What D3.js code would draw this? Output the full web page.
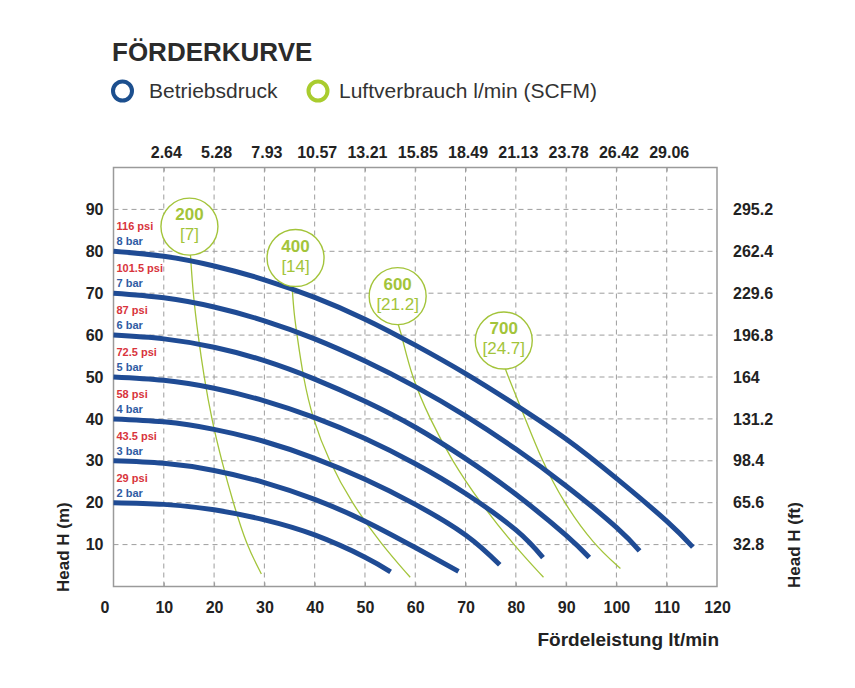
<!DOCTYPE html>
<html>
<head>
<meta charset="utf-8">
<script src="https://cdn.jsdelivr.net/npm/d3@7"></script>
<style>
  body { margin: 0; background: #fff; }
  svg { font-family: "Liberation Sans", Arial, sans-serif; }
</style>
</head>
<body>
<svg id="chart" width="855" height="688"></svg>
<script>
// flow in l/min, head in m
const flowTicks = [10, 20, 30, 40, 50, 60, 70, 80, 90, 100, 110];
const bottomTicks = [0, 10, 20, 30, 40, 50, 60, 70, 80, 90, 100, 110, 120];
const gallonLabels = ["2.64", "5.28", "7.93", "10.57", "13.21", "15.85", "18.49", "21.13", "23.78", "26.42", "29.06"];
const headTicks = [10, 20, 30, 40, 50, 60, 70, 80, 90];
const feetLabels = ["32.8", "65.6", "98.4", "131.2", "164", "196.8", "229.6", "262.4", "295.2"];

const barLabels = ["2 bar", "3 bar", "4 bar", "5 bar", "6 bar", "7 bar", "8 bar"];
const psiLabels = ["29 psi", "43.5 psi", "58 psi", "72.5 psi", "87 psi", "101.5 psi", "116 psi"];

const curve2 = [[0,20],[10,19.6],[20,18.3],[30,15.9],[40,12.3],[50,7.0],[55.1,3.5]];
const curve3 = [[0,30],[10,29.4],[20,27.7],[30,24.8],[40,20.8],[50,15.6],[60,9.3],[68.6,3.6]];
const curve4 = [[0,40],[10,39.3],[20,37.5],[30,34.6],[40,30.6],[50,25.6],[60,19.6],[70,12.3],[76.8,5.2]];
const curve5 = [[0,50],[10,49.2],[20,47.3],[30,44.3],[40,40.3],[50,35.3],[60,29.3],[70,22.2],[80,13.5],[85.4,6.9]];
const curve6 = [[0,60],[10,59.1],[20,57.1],[30,53.9],[40,49.5],[50,44.2],[60,38.0],[70,30.5],[80,22.0],[90,12.2],[94.6,6.9]];
const curve7 = [[0,70],[10,68.9],[20,66.7],[30,63.4],[40,59.1],[50,53.8],[60,47.7],[70,40.7],[80,32.8],[90,24.0],[100,14.1],[104.6,8.5]];
const curve8 = [[0,80],[10,78.8],[20,76.5],[30,73.2],[40,69.0],[50,63.8],[60,57.6],[70,50.8],[80,43.3],[90,35.2],[100,25.8],[110,15.6],[115.2,9.4]];

const airNames = ["200", "400", "600", "700"];
const airScfm = ["[7]", "[14]", "[21.2]", "[24.7]"];
const airBubbles = [[15.1,85.9],[36.2,78.4],[56.5,69.3],[77.6,58.7]];
const air200 = [[15.3,79.2],[15.8,70],[16.8,60],[18,50],[19.5,40],[21.5,30],[23.8,20],[26.4,10],[29.4,3]];
const air400 = [[35.5,71.7],[35.9,65],[36.5,60],[37.7,50],[39.6,40],[42.8,30],[47.3,20],[53.3,10],[59,2.2]];
const air600 = [[56.6,62.6],[57.3,60],[59.3,50],[62.9,40],[67.3,30],[72.9,20],[79.5,10],[85.5,2.2]];
const air700 = [[77.9,52],[78.5,50],[81.9,40],[85.2,30],[89.5,20],[95.5,10],[100.8,4.3]];

const pumpCurves = [curve2, curve3, curve4, curve5, curve6, curve7, curve8];
const airLines = [air200, air400, air600, air700];

const blue = "#1f4b94", green = "#a3c43a", red = "#d8343c", labelBlue = "#2f5ba3", ink = "#222";

const svg = d3.select("#chart");
const x = d3.scaleLinear().domain([0, 120]).range([113.5, 717]);
const y = d3.scaleLinear().domain([0, 100]).range([586.5, 167.5]);

// title + legend
svg.append("text").attr("x", 112).attr("y", 60.5)
    .attr("font-size", 26).attr("font-weight", "bold").attr("fill", "#2b2b2b")
    .text("FÖRDERKURVE");

const legend = [
    {cx: 122.5, color: "#1c4f8e", tx: 149, label: "Betriebsdruck"},
    {cx: 318, color: "#a9cc2e", tx: 339, label: "Luftverbrauch l/min (SCFM)"}
];
legend.forEach(d => {
    svg.append("circle").attr("cx", d.cx).attr("cy", 91).attr("r", 9.5)
        .attr("fill", "none").attr("stroke", d.color).attr("stroke-width", 4);
    svg.append("text").attr("x", d.tx).attr("y", 97.5)
        .attr("font-size", 21).attr("fill", "#333").text(d.label);
});

// grid
const grid = svg.append("g").attr("stroke", "#9d9d9d").attr("stroke-width", 1).attr("stroke-dasharray", "5,4");
grid.selectAll(".vg").data(flowTicks).enter().append("line")
    .attr("x1", d => x(d)).attr("x2", d => x(d))
    .attr("y1", y(100)).attr("y2", y(0));
grid.selectAll(".hg").data(headTicks).enter().append("line")
    .attr("x1", x(0)).attr("x2", x(120))
    .attr("y1", d => y(d)).attr("y2", d => y(d));

svg.append("rect")
    .attr("x", x(0)).attr("y", y(100))
    .attr("width", x(120) - x(0)).attr("height", y(0) - y(100))
    .attr("fill", "none").attr("stroke", "#9a9a9a").attr("stroke-width", 1.5);

// axes
function styleAxis(g) {
    g.select(".domain").remove();
    g.selectAll(".tick line").attr("stroke", "#9a9a9a");
    g.selectAll(".tick text").attr("font-size", 16).attr("font-weight", "bold").attr("fill", ink);
}

const bottomAxis = svg.append("g").attr("transform", `translate(0,${y(0)})`)
    .call(d3.axisBottom(x).tickValues(bottomTicks).tickSizeInner(-4).tickSizeOuter(0).tickPadding(15))
    .call(styleAxis);
bottomAxis.selectAll(".tick").filter(d => d === 0).select("text").attr("dx", -9);
bottomAxis.selectAll(".tick").filter(d => d === 0 || d === 120).select("line").remove();

svg.append("g").attr("transform", `translate(0,${y(100)})`)
    .call(d3.axisTop(x).tickValues(flowTicks).tickFormat((d, i) => gallonLabels[i])
        .tickSizeInner(-4).tickSizeOuter(0).tickPadding(10))
    .call(styleAxis)
    .selectAll(".tick text").attr("dx", 2);

svg.append("g").attr("transform", `translate(${x(0)},0)`)
    .call(d3.axisLeft(y).tickValues(headTicks).tickSize(0).tickPadding(10))
    .call(styleAxis);

svg.append("g").attr("transform", `translate(${x(120)},0)`)
    .call(d3.axisRight(y).tickValues(headTicks).tickFormat((d, i) => feetLabels[i])
        .tickSize(0).tickPadding(16))
    .call(styleAxis);

svg.append("text").attr("x", 719).attr("y", 646).attr("text-anchor", "end")
    .attr("font-size", 19).attr("font-weight", "bold").attr("fill", ink)
    .text("Fördeleistung lt/min");
svg.append("text").attr("transform", "translate(69,592) rotate(-90)")
    .attr("font-size", 17).attr("font-weight", "bold").attr("fill", ink)
    .text("Head H (m)");
svg.append("text").attr("transform", "translate(800,588) rotate(-90)")
    .attr("font-size", 17).attr("font-weight", "bold").attr("fill", ink)
    .text("Head H (ft)");

// air consumption lines
const airLine = d3.line().x(d => x(d[0])).y(d => y(d[1])).curve(d3.curveBasis);
svg.append("g").selectAll("path").data(airLines).enter().append("path")
    .attr("d", airLine).attr("fill", "none").attr("stroke", green).attr("stroke-width", 1.3);

// pump curves
const pumpLine = d3.line().x(d => x(d[0])).y(d => y(d[1])).curve(d3.curveNatural);
svg.append("g").selectAll("path").data(pumpCurves).enter().append("path")
    .attr("d", pumpLine).attr("fill", "none").attr("stroke", blue).attr("stroke-width", 5);

// bubbles
const bubbles = svg.append("g").selectAll("g").data(airBubbles).enter().append("g")
    .attr("transform", d => `translate(${x(d[0])},${y(d[1])})`);
bubbles.append("circle").attr("r", 28.5).attr("fill", "#fff").attr("stroke", green).attr("stroke-width", 1.4);
bubbles.append("text").attr("y", -6.5).attr("text-anchor", "middle")
    .attr("font-size", 17).attr("font-weight", "bold").attr("fill", green)
    .text((d, i) => airNames[i]);
bubbles.append("text").attr("y", 13.5).attr("text-anchor", "middle")
    .attr("font-size", 17).attr("fill", green)
    .text((d, i) => airScfm[i]);

// pressure labels
const labels = svg.append("g").attr("font-size", 11).attr("font-weight", "bold");
pumpCurves.forEach((c, i) => {
    labels.append("text").attr("x", x(0) + 3).attr("y", y(c[0][1]) - 21)
        .attr("fill", red).text(psiLabels[i]);
    labels.append("text").attr("x", x(0) + 3).attr("y", y(c[0][1]) - 6)
        .attr("fill", labelBlue).text(barLabels[i]);
});
</script>
</body>
</html>
